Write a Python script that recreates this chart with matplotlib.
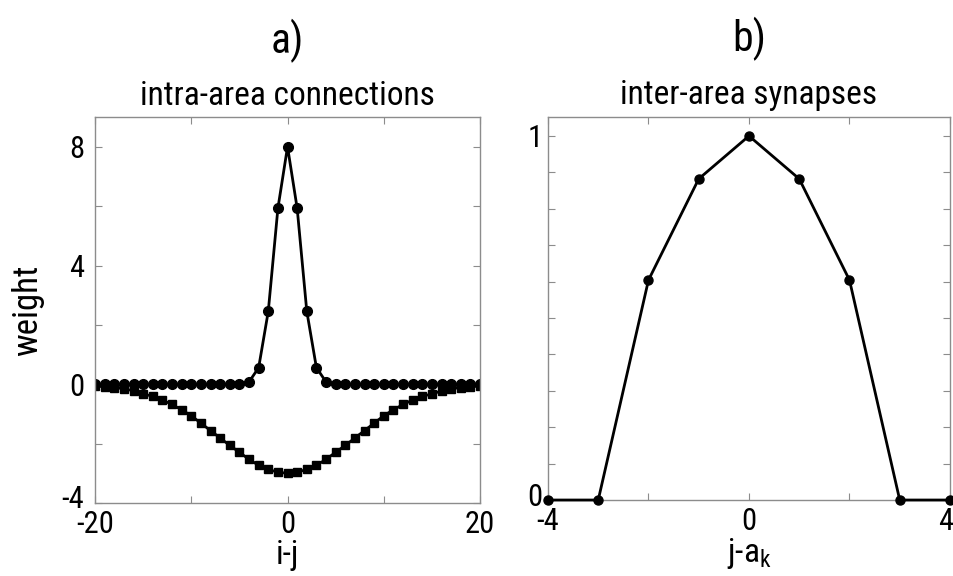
"""
Two-panel weight profiles: intra-area connection kernels (a) and the inter-area synapse profile (b).
"""
import matplotlib
matplotlib.use("Agg")
import matplotlib.pyplot as plt
from matplotlib.transforms import ScaledTranslation

plt.rcParams["font.family"] = ["Roboto Condensed", "Liberation Sans", "DejaVu Sans"]

# panel a: distance i-j and the two kernels
dist_a = list(range(-20, 21))
excit = [0, 0, 0, 0, 0, 0, 0, 0, 0, 0, 0, 0, 0, 0, 0, 0,
         0.08, 0.56, 2.46, 5.93, 8.0, 5.93, 2.46, 0.56, 0.08,
         0, 0, 0, 0, 0, 0, 0, 0, 0, 0, 0, 0, 0, 0, 0, 0]
inhib_half = [-0.06, -0.08, -0.11, -0.15, -0.22, -0.33, -0.40, -0.53, -0.68, -0.86,
              -1.06, -1.31, -1.56, -1.81, -2.06, -2.29, -2.53, -2.73, -2.87, -2.96]
inhib = inhib_half + [-3.0] + inhib_half[::-1]

# panel b: offset j-a_k and synaptic weight
dist_b = [-4, -3, -2, -1, 0, 1, 2, 3, 4]
syn = [0, 0, 0.604, 0.882, 1.0, 0.882, 0.604, 0, 0]

FRAME = "#8c8c8c"


def style_axes(ax, xticks, xlabels, yticks, ylabels):
    for s in ax.spines.values():
        s.set_color(FRAME); s.set_linewidth(1.0)
    ax.set_xticks(xticks); ax.set_xticklabels(xlabels)
    ax.set_yticks(yticks); ax.set_yticklabels(ylabels)
    ax.tick_params(direction="in", top=True, right=True, length=5, width=0.8,
                   color=FRAME, labelsize=22, pad=5)


def nudge(label, dx_pt, dy_pt):
    # shift a single tick label by a few points so the corner labels don't collide
    label.set_transform(label.get_transform() + ScaledTranslation(dx_pt / 72, dy_pt / 72, fig.dpi_scale_trans))


fig = plt.figure(figsize=(9.54, 5.76), dpi=100)

# ---- panel a
axa = fig.add_axes([0.0996, 0.1267, 0.4036, 0.670])
axa.plot(dist_a, inhib, "-s", color="black", lw=2.0, ms=6.0)
axa.plot(dist_a, excit, "-o", color="black", lw=2.0, ms=7.0)
axa.set_xlim(-20, 20); axa.set_ylim(-4, 9)
style_axes(axa, [-20, -10, 0, 10, 20], ["-20", "", "0", "", "20"],
           [-4, -2, 0, 2, 4, 6, 8], ["-4", "", "0", "", "4", "", "8"])
axa.tick_params(axis="y", pad=8)
nudge(axa.get_yticklabels()[0], 0, 5)
axa.set_xlabel("i-j", fontsize=24, labelpad=0)
axa.set_ylabel("weight", fontsize=25, labelpad=12)
axa.set_title("intra-area connections", fontsize=24, pad=9)
axa.text(0.5, 1.14, "a)", transform=axa.transAxes, ha="center", va="bottom", fontsize=30)

# ---- panel b
axb = fig.add_axes([0.5744, 0.1319, 0.4214, 0.665])
axb.plot(dist_b, syn, "-o", color="black", lw=2.0, ms=6.5, clip_on=False, zorder=3)
axb.set_xlim(-4, 4); axb.set_ylim(0, 1.052)
style_axes(axb, [-4, -2, 0, 2, 4], ["-4", "", "0", "", "4"],
           [i / 10 for i in range(11)], ["0"] + [""] * 9 + ["1"])
axb.tick_params(axis="y", pad=4)
nudge(axb.get_yticklabels()[0], 0, 4)
nudge(axb.get_xticklabels()[-1], -3, 0)
axb.set_xlabel("j-a$_\\mathregular{k}$", fontsize=24, labelpad=0)
axb.set_title("inter-area synapses", fontsize=24, pad=9)
axb.text(0.5, 1.145, "b)", transform=axb.transAxes, ha="center", va="bottom", fontsize=30)

fig.savefig("out.png", dpi=100)
